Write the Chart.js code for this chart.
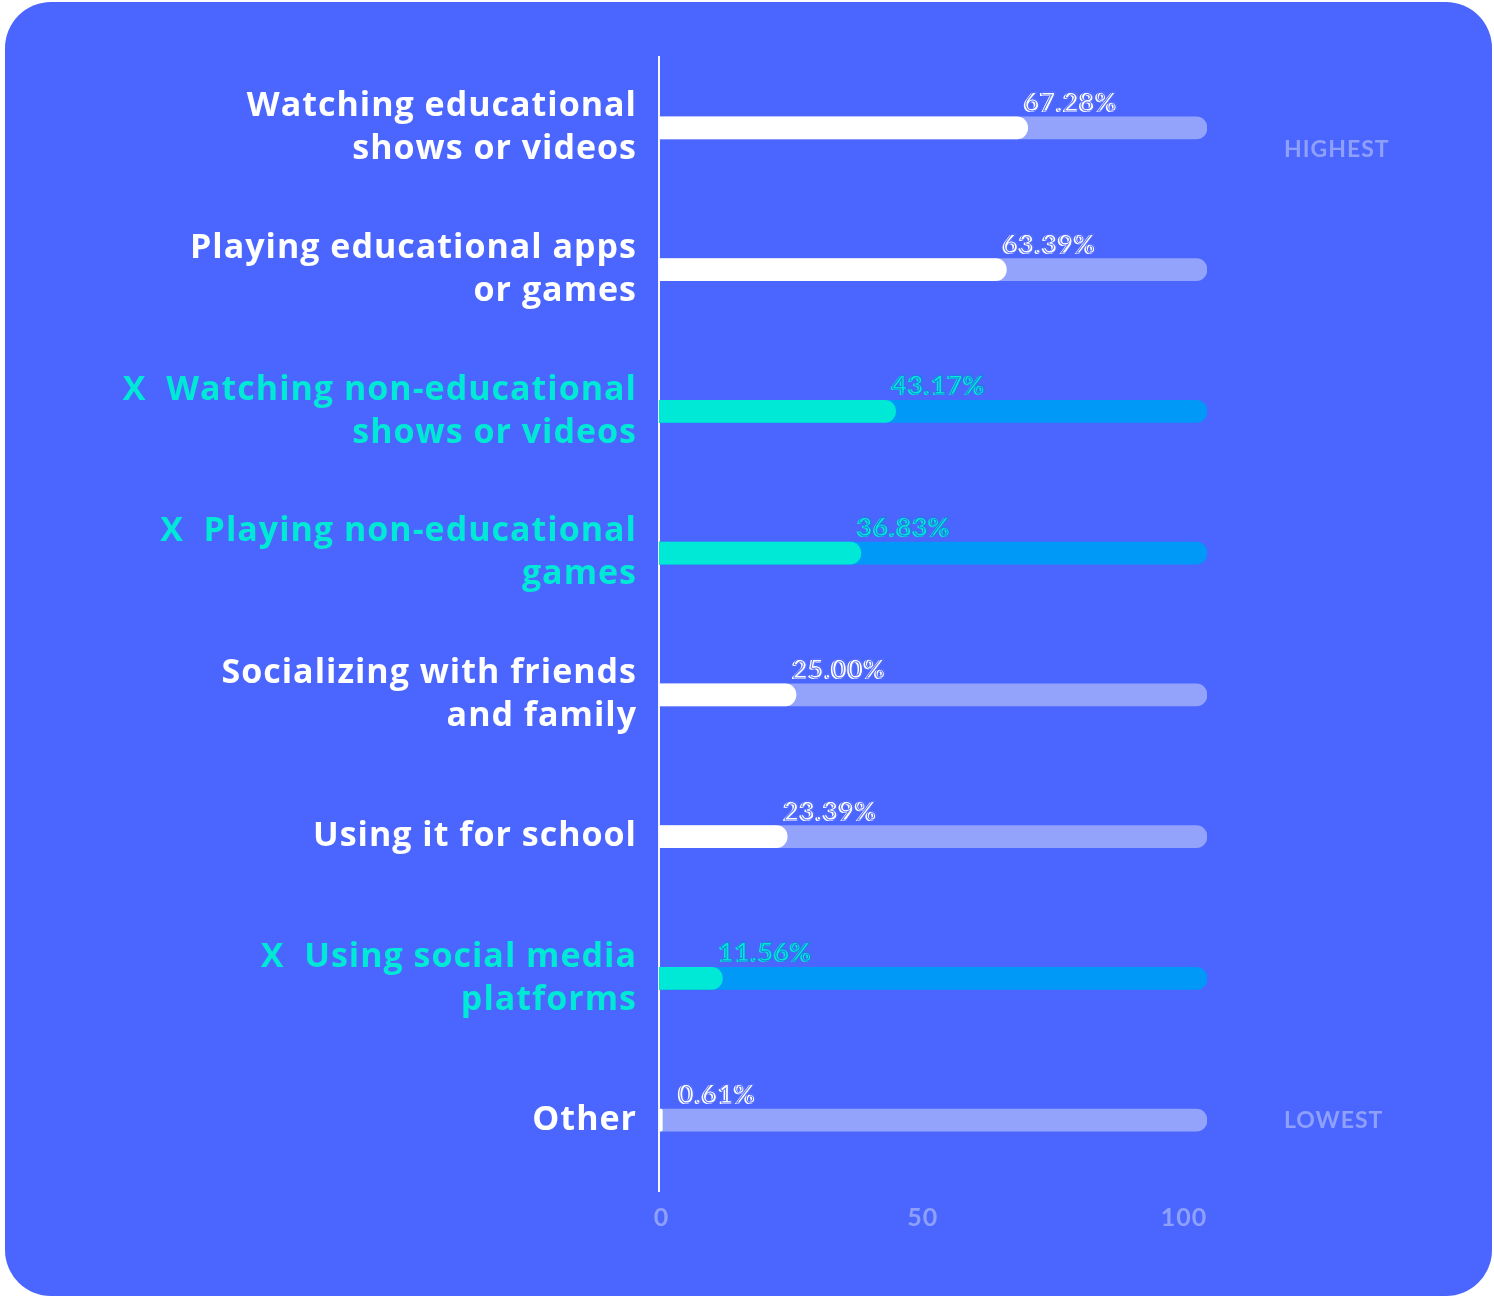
<!DOCTYPE html>
<html>
<head>
<meta charset="utf-8">
<script src="https://cdn.jsdelivr.net/npm/chart.js@4"></script>
<style>
    body { margin: 0; background: #fff; }
    #card {
        position: absolute; left: 5px; top: 2px;
        width: 1487px; height: 1294px;
        border-radius: 46px; background: #4b66fe;
        overflow: hidden;
    }
    #activities { display: block; }
</style>
</head>
<body>
<div id="card"><canvas id="activities" width="1487" height="1294"></canvas></div>
<script>
let categories = [
    ["Watching educational", "shows or videos"],
    ["Playing educational apps", "or games"],
    ["X  Watching non-educational", "shows or videos"],
    ["X  Playing non-educational", "games"],
    ["Socializing with friends", "and family"],
    "Using it for school",
    ["X  Using social media", "platforms"],
    "Other"
];
let shares = [67.28, 63.39, 43.17, 36.83, 25.00, 23.39, 11.56, 0.61];
let flagged = [false, false, true, true, false, false, true, false];
let track = [100, 100, 100, 100, 100, 100, 100, 100];
let xTicks = [0, 50, 100];
let rankLabels = [["", "HIGHEST"], "", "", "", "", "", "", "LOWEST"];

const CYAN = "#00e9d6", WHITE = "#ffffff";
const TRACK = "#93a3fc", TRACK_HI = "#0099f7", SOFT = "#8fa0fb";

// a little tracking on every text, like the original lettering
const spacing = {
    id: "spacing",
    beforeDraw(chart) { chart.ctx.letterSpacing = "1px"; }
};

const pctLabels = {
    id: "pctLabels",
    afterDatasetsDraw(chart) {
        let ctx = chart.ctx;
        let meta = chart.getDatasetMeta(0);
        ctx.save();
        ctx.font = "bold 26px Lato";
        ctx.letterSpacing = "1px";
        ctx.textAlign = "left";
        ctx.textBaseline = "alphabetic";
        meta.data.forEach((bar, i) => {
            let txt = shares[i].toFixed(2) + "%";
            let x = bar.x - 5, y = bar.y - 16;
            if(i == 7) x = bar.x + 15;
            ctx.fillStyle = flagged[i] ? CYAN : WHITE;
            ctx.fillText(txt, x, y);
            ctx.fillText(txt, x + 1, y);
            ctx.lineWidth = 1;
            ctx.strokeStyle = flagged[i] ? "#1a7fe0" : "#5a73fe";
            ctx.strokeText(txt, x + 2, y - 1);
        });
        ctx.restore();
    }
};

new Chart("activities", {
    type: "bar",
    data: {
        labels: categories,
        datasets: [{
            data: shares,
            backgroundColor: flagged.map(f => f ? CYAN : WHITE),
            borderRadius: 11,
            borderSkipped: "start",
            barThickness: 22,
            order: 0
        }, {
            data: track,
            backgroundColor: flagged.map(f => f ? TRACK_HI : TRACK),
            borderRadius: 11,
            borderSkipped: "start",
            barThickness: 22,
            order: 1
        }]
    },
    options: {
        indexAxis: "y",
        responsive: false,
        animation: false,
        layout: {padding: {top: 55, bottom: 60, left: 0, right: 0}},
        plugins: {legend: {display: false}, tooltip: {enabled: false}},
        datasets: {bar: {grouped: false}},
        scales: {
            x: {
                min: 0, max: 100,
                display: false
            },
            // tick row of the original sits a bit inside the bar range
            x2: {
                type: "linear",
                position: "bottom",
                min: -0.5, max: 104.4,
                afterBuildTicks: (s) => { s.ticks = xTicks.map(v => ({value: v})); },
                afterFit: (s) => { s.height = 45; },
                grid: {display: false, drawTicks: false},
                border: {display: false},
                ticks: {
                    color: SOFT,
                    font: {family: "Lato", size: 25, weight: "bold"},
                    padding: 12
                }
            },
            y: {
                afterFit: (s) => { s.width = 654; },
                grid: {display: false, drawTicks: false},
                border: {display: true, color: "rgba(255,255,255,0.95)", width: 2},
                ticks: {
                    color: (c) => flagged[c.index] ? CYAN : WHITE,
                    font: {family: "Open Sans", size: 34, weight: "bold", lineHeight: 1.265},
                    padding: 22
                }
            },
            y1: {
                type: "category",
                position: "right",
                labels: rankLabels,
                offset: true,
                afterFit: (s) => { s.width = 285; s.paddingTop = 0; s.paddingBottom = 0; },
                grid: {display: false, drawTicks: false},
                border: {display: false},
                ticks: {
                    color: SOFT,
                    font: {family: "Lato", size: 23, weight: "bold", lineHeight: 1.85},
                    padding: 77
                }
            }
        }
    },
    plugins: [spacing, pctLabels]
});
</script>
</body>
</html>
